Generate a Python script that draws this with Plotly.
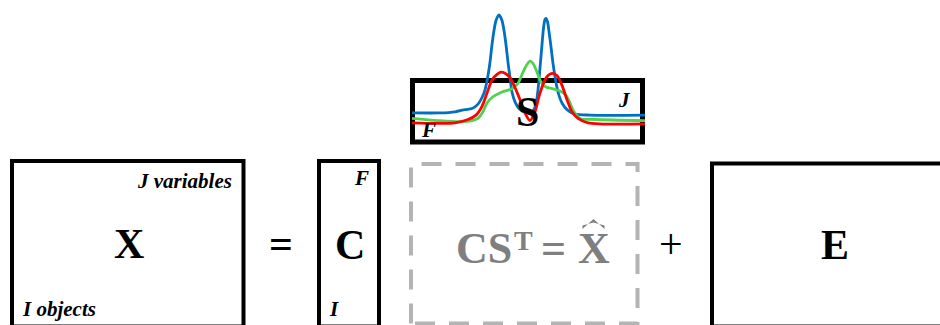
import plotly.graph_objects as go

# Spectral profiles of the three components (channel index, relative intensity)
blue_ch = [0, 28, 43, 53, 60, 66, 70, 73, 76, 78, 80, 82, 84, 86, 87, 88, 90, 92, 94, 96,
           98, 100, 103, 107, 112, 117, 121, 124, 126, 128, 130, 131.5, 133, 134, 135.5,
           137, 139, 141, 143, 146, 150, 155, 163, 178, 233]
blue_int = [0.11, 0.11, 0.12, 0.14, 0.15, 0.19, 0.25, 0.32, 0.45, 0.57, 0.73, 0.86, 0.95,
            0.99, 1.00, 0.99, 0.95, 0.86, 0.73, 0.57, 0.43, 0.30, 0.21, 0.15, 0.12, 0.11,
            0.13, 0.19, 0.32, 0.52, 0.73, 0.88, 0.96, 0.97, 0.94, 0.85, 0.71, 0.56, 0.44,
            0.30, 0.20, 0.14, 0.10, 0.09, 0.09]

green_ch = [0, 26, 48, 60, 66, 71, 75, 80, 90, 100, 106, 111, 115, 118, 121, 125, 129,
            133, 140, 148, 154, 158, 162, 168, 183, 233]
green_int = [0.06, 0.04, 0.03, 0.04, 0.06, 0.12, 0.20, 0.25, 0.30, 0.33, 0.38, 0.48, 0.55,
             0.58, 0.56, 0.48, 0.39, 0.35, 0.33, 0.31, 0.27, 0.20, 0.12, 0.06, 0.05, 0.04]

red_ch = [0, 43, 56, 64, 70, 75, 80, 85, 89, 93, 98, 103, 108, 113, 118, 123, 127, 132,
          136, 140, 145, 150, 155, 160, 166, 176, 233]
red_int = [0.02, 0.02, 0.05, 0.09, 0.17, 0.29, 0.41, 0.46, 0.48, 0.47, 0.43, 0.34, 0.23,
           0.11, 0.04, 0.12, 0.26, 0.39, 0.45, 0.47, 0.45, 0.36, 0.23, 0.12, 0.06, 0.02, 0.01]

series = [
    (blue_ch, blue_int, "#0070c0"),
    (green_ch, green_int, "#4fd24f"),
    (red_ch, red_int, "#ff0000"),
]

W, H = 940, 325
SERIF = "Liberation Serif, Times New Roman, serif"
GREY_TXT = "#7f7f7f"
GREY_BOX = "#b4b4b4"

fig = go.Figure()

for ch, inten, col in series:
    fig.add_trace(go.Scatter(
        x=ch, y=inten, mode="lines", xaxis="x2", yaxis="y2",
        line=dict(color=col, width=2.8, shape="spline", smoothing=0.8),
        hoverinfo="skip", showlegend=False,
    ))

# Matrix blocks
def box(x0, y0, x1, y1, color="black", width=4, dash=None):
    fig.add_shape(type="rect", xref="x", yref="y", x0=x0, y0=y0, x1=x1, y1=y1,
                  line=dict(color=color, width=width, dash=dash),
                  fillcolor="rgba(0,0,0,0)", layer="below")

box(12, 161, 243.5, 326.5)           # X
box(319, 161, 379, 326.5)            # C
box(712, 163.5, 960, 326.5)          # E
box(412.5, 80.5, 642.5, 142, width=5)  # S
# reconstructed part (dashed)
fig.add_shape(type="path", xref="x", yref="y",
              path="M 411,323.5 V 164 H 637.5 V 323.5 Z",
              line=dict(color=GREY_BOX, width=4, dash="20px,14px"),
              fillcolor="rgba(0,0,0,0)", layer="below")
# hat over X
fig.add_shape(type="path", xref="x", yref="y",
              path="M 582.5,229 L 593.5,219 L 604.5,229 L 604.5,225.5 L 593.5,222.5 L 582.5,225.5 Z",
              line=dict(width=0), fillcolor=GREY_TXT)

def txt(x, y, s, size, color="black", bold=True, italic=False, xanchor="center"):
    fig.add_annotation(x=x, y=y, xref="x", yref="y", text=s, showarrow=False,
                       xanchor=xanchor, yanchor="middle",
                       font=dict(family=SERIF, size=size, color=color,
                                 weight="bold" if bold else "normal",
                                 style="italic" if italic else "normal"))

BIG = 42
txt(129, 244, "X", BIG)
txt(281, 244, "=", BIG)
txt(350, 245, "C", BIG)
txt(484, 248, "CS", 44, color=GREY_TXT)
txt(523, 240, "T", 28, color=GREY_TXT)
txt(553, 248, "=", 44, color=GREY_TXT)
txt(594, 248, "X", 44, color=GREY_TXT)
txt(671, 244, "+", BIG, bold=False)
txt(835, 245, "E", BIG)
txt(527.5, 112, "S", BIG)

SMALL = 21
txt(234, 181, "J variables", SMALL, italic=True, xanchor="right")
txt(20, 309, "I objects", SMALL, italic=True, xanchor="left")
txt(371, 178, "F", SMALL, italic=True, xanchor="right")
txt(327, 309, "I", SMALL, italic=True, xanchor="left")
txt(633, 100, "J", SMALL, italic=True, xanchor="right")
txt(419, 130, "F", SMALL, italic=True, xanchor="left")

fig.update_layout(
    width=W, height=H,
    margin=dict(l=0, r=0, t=0, b=0),
    paper_bgcolor="white", plot_bgcolor="rgba(0,0,0,0)",
    showlegend=False,
    xaxis=dict(range=[0, W], visible=False, domain=[0, 1], fixedrange=True),
    yaxis=dict(range=[H, 0], visible=False, domain=[0, 1], fixedrange=True),
    xaxis2=dict(range=[0, 233], visible=False, anchor="y2",
                domain=[412 / W, 645 / W]),
    yaxis2=dict(range=[-0.1, 1.1], visible=False, anchor="x2",
                domain=[1 - 136 / H, 1 - 4 / H]),
)

fig.write_html("out.html")
